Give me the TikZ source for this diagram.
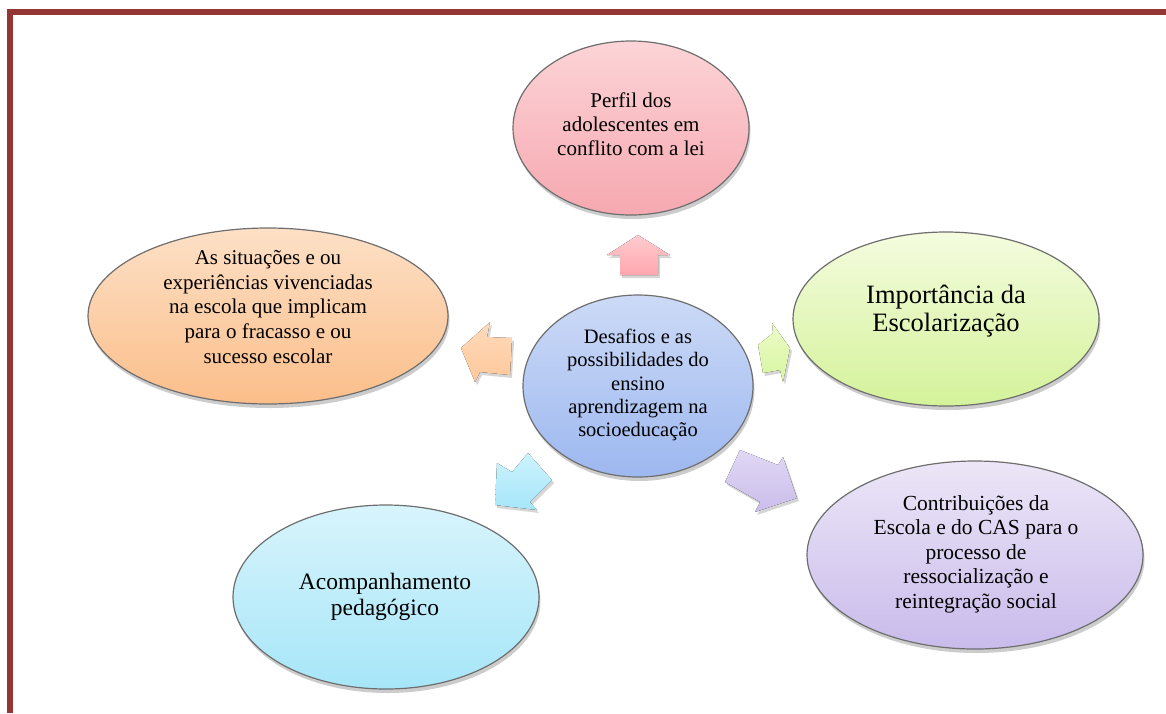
\documentclass[tikz,border=0pt]{standalone}
\usepackage{fontspec}
\setmainfont{Liberation Serif}
\newfontfamily\tnr{Liberation Serif}
\usetikzlibrary{shapes.geometric}
\definecolor{framered}{HTML}{943634}
\definecolor{edge}{HTML}{6E6E6E}
\begin{document}
\begin{tikzpicture}[x=1pt,y=-1pt,
  bubble/.style={ellipse, draw=edge, line width=1.2pt, inner sep=0pt,
    preaction={fill=black!20, transform canvas={xshift=1.5pt,yshift=-4pt}}},
  blockarrow/.style={preaction={fill=black!16, transform canvas={xshift=2pt,yshift=-3pt}}},
  lbl/.style={align=center, text=black, inner sep=0pt}]
\useasboundingbox (0,0) rectangle (1166,713);
% frame
\fill[framered] (7,9) rectangle (1166,15);
\fill[framered] (7,9) rectangle (13,713);

% ellipses
\node[bubble, minimum width=236pt, minimum height=174pt, top color={rgb,255:red,252;green,212;blue,215}, bottom color={rgb,255:red,246;green,168;blue,176}] (perfil) at (631,128) {};
\node[bubble, minimum width=360pt, minimum height=176pt, top color={rgb,255:red,253;green,224;blue,198}, bottom color={rgb,255:red,251;green,190;blue,138}] (situacoes) at (268,316) {};
\node[bubble, minimum width=306pt, minimum height=174pt, top color={rgb,255:red,244;green,252;blue,222}, bottom color={rgb,255:red,212;green,242;blue,154}] (importancia) at (946,319) {};
\node[bubble, minimum width=306pt, minimum height=184pt, top color={rgb,255:red,216;green,244;blue,252}, bottom color={rgb,255:red,166;green,230;blue,248}] (acomp) at (386,597) {};
\node[bubble, minimum width=336pt, minimum height=188pt, top color={rgb,255:red,236;green,230;blue,247}, bottom color={rgb,255:red,201;green,187;blue,235}] (contrib) at (975,555) {};
\node[bubble, minimum width=230pt, minimum height=182pt, top color={rgb,255:red,204;green,218;blue,246}, bottom color={rgb,255:red,157;green,184;blue,240}] (desafios) at (638,386) {};

% block arrows
\fill[blockarrow, top color={rgb,255:red,255;green,204;blue,207}, bottom color={rgb,255:red,255;green,166;blue,174}]
  (638,235) -- (670,255) -- (658,255) -- (658,275) -- (620,275) -- (620,255) -- (607,255) -- cycle;
\fill[blockarrow, top color={rgb,255:red,255;green,218;blue,188}, bottom color={rgb,255:red,255;green,200;blue,154}]
  (461,348) -- (490,322) -- (487,337) -- (512,338) -- (510,375) -- (480,372) -- (475,382) -- cycle;
\fill[blockarrow, top color={rgb,255:red,236;green,251;blue,200}, bottom color={rgb,255:red,214;green,246;blue,160}]
  (790,348) -- (772,323) -- (773,333) -- (758,345) -- (763,373) -- (780,370) -- (783,382) -- cycle;
\fill[blockarrow, top color={rgb,255:red,204;green,243;blue,253}, bottom color={rgb,255:red,166;green,230;blue,250}]
  (495,505) -- (497,463) -- (512,472) -- (528,453) -- (552,480) -- (530,502) -- (537,510) -- cycle;
\fill[blockarrow, top color={rgb,255:red,224;green,216;blue,244}, bottom color={rgb,255:red,203;green,189;blue,235}]
  (797,498) -- (783,457) -- (778,465) -- (740,450) -- (725,482) -- (760,502) -- (755,512) -- cycle;

% texts
\node[lbl, font=\tnr\fontsize{21}{24}\selectfont] (tperfil) at (631,124) {Perfil dos\\adolescentes em\\conflito com a lei};
\node[lbl, font=\tnr\fontsize{21}{24.75}\selectfont] (tsit) at (268,307) {As situações e ou\\experiências vivenciadas\\na escola que implicam\\para o fracasso e ou\\sucesso escolar};
\node[lbl, font=\tnr\fontsize{26.5}{27.5}\selectfont] (timp) at (946,311) {Importância da\\Escolarização};
\node[lbl, font=\tnr\fontsize{20.5}{23.3}\selectfont] (tdes) at (638,385) {Desafios e as\\possibilidades do\\ensino\\aprendizagem na\\socioeducação};
\node[lbl, font=\tnr\fontsize{21.5}{24.5}\selectfont] (tcon) at (976,554) {Contribuições da\\Escola e do CAS para o\\processo de\\ressocialização e\\reintegração social};
\node[lbl, font=\tnr\fontsize{23.5}{25.5}\selectfont] (tacomp) at (385,597) {Acompanhamento\\pedagógico};
\end{tikzpicture}
\end{document}
